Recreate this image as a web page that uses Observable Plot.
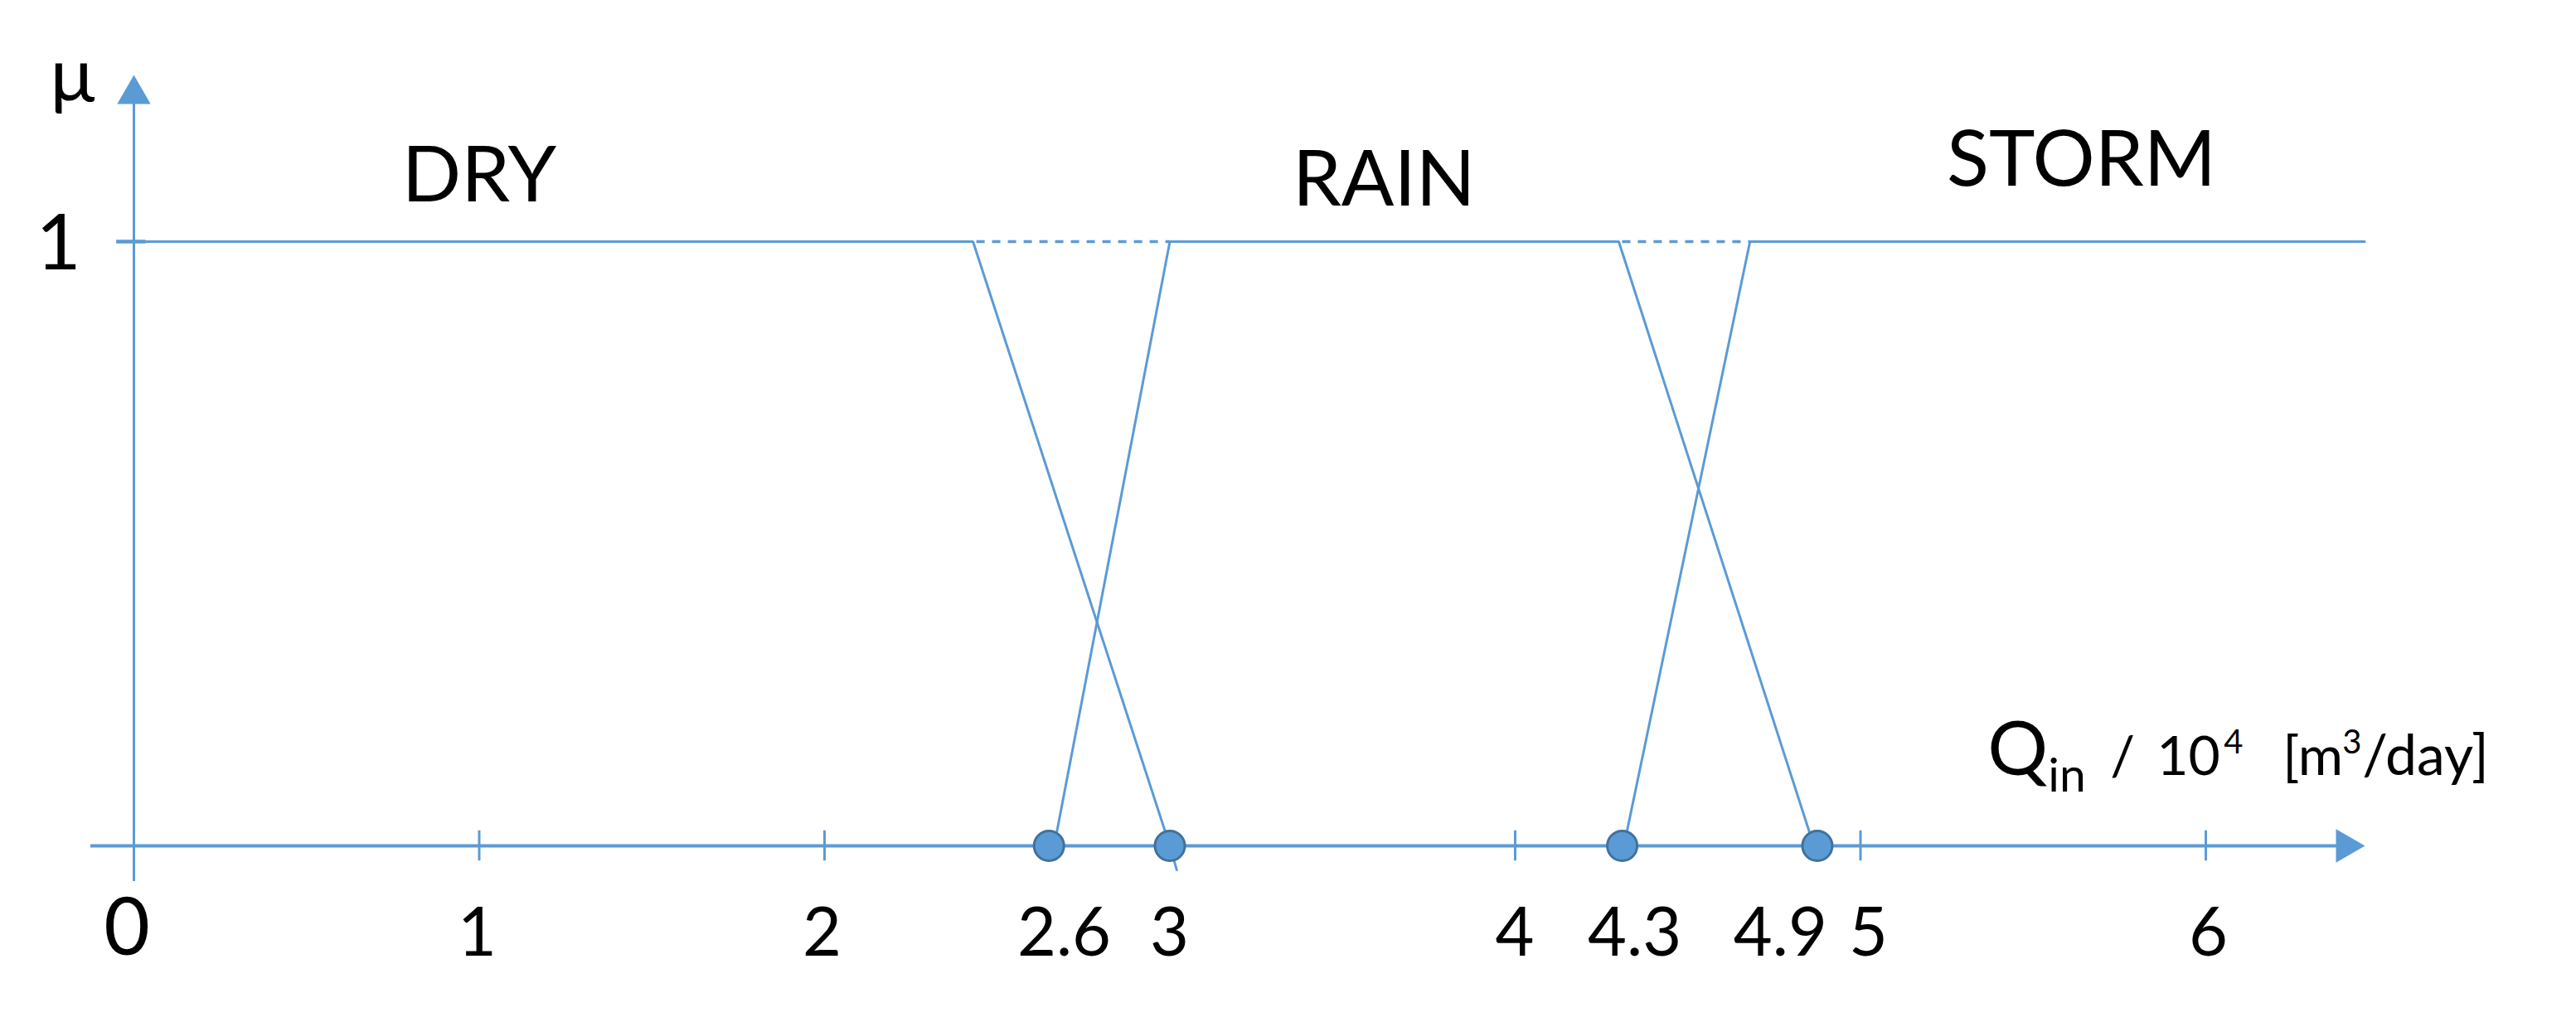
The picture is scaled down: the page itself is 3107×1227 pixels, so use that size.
<!DOCTYPE html>
<html>
<head>
<meta charset="utf-8">
<script src="https://cdn.jsdelivr.net/npm/d3@7"></script>
<script src="https://cdn.jsdelivr.net/npm/@observablehq/plot@0.6"></script>
<style>
html, body { margin: 0; padding: 0; background: #fff; }
#chart svg { display: block; }
</style>
</head>
<body>
<div id="chart"></div>
<script>
// ---- data ----
const setNames   = ["DRY", "RAIN", "STORM"];
const setLabelX  = [1.0, 3.62, 5.64];
const setLabelMu = [1.067, 1.059, 1.093];

const dryX   = [0, 2.43, 3.0, 3.02];
const dryMu  = [1, 1, 0, -0.04];
const rainX  = [2.665, 3.0, 4.30, 4.865];
const rainMu = [0, 1, 1, 0];
const stormX = [4.315, 4.68, 6.46];
const stormMu = [0, 1, 1];

const gapStart = [2.43, 4.30];
const gapEnd   = [3.0, 4.68];

const pointX = [2.65, 3.0, 4.31, 4.875];

const tickValues = [1, 2, 4, 5, 6];
const tickLabels = ["1", "2", "2.6", "3", "4", "4.3", "4.9", "5", "6"];
const tickLabelX = [0.994, 1.993, 2.694, 2.999, 3.999, 4.346, 4.768, 5.023, 6.007];

const xAxisExtent = [-0.125, 6.405];
const yAxisExtent = [-0.059, 1.2437];

const xTitleParts = ["Q", "in", "/", "10", "4", "[m", "3", "/day]"];

// ---- styles ----
const blue = "#5B9BD5";
const dotStroke = "#41719C";
const font = "Lato";

const pts = (xs, ys) => xs.map((x, i) => ({x, y: ys[i]}));

const titleX = 5.368, titleY = 0.1166;
const titleStyle = [
  {dx: 0,   dy: 0,   fontSize: 91},
  {dx: 73,  dy: 20,  fontSize: 57},
  {dx: 148, dy: 0,   fontSize: 66},
  {dx: 204, dy: 0,   fontSize: 66},
  {dx: 285, dy: -26, fontSize: 40},
  {dx: 356, dy: 0,   fontSize: 66},
  {dx: 428, dy: -26, fontSize: 40},
  {dx: 452, dy: 0,   fontSize: 68}
];

const chart = Plot.plot({
  width: 3107,
  height: 1227,
  x: {domain: [0, 6], range: [161, 2660], axis: null},
  y: {domain: [0, 1], range: [1020, 291], axis: null},
  style: {fontFamily: font, background: "white", overflow: "visible"},
  marks: [
    // axes
    Plot.ruleY([0], {x1: xAxisExtent[0], x2: xAxisExtent[1], stroke: blue, strokeWidth: 4}),
    Plot.ruleX([0], {y1: yAxisExtent[0], y2: yAxisExtent[1], stroke: blue, strokeWidth: 3}),
    Plot.dot([{x: xAxisExtent[1], y: 0}], {x: "x", y: "y", symbol: "triangle", r: 15, rotate: 90, fill: blue, stroke: null}),
    Plot.dot([{x: 0, y: yAxisExtent[1]}], {x: "x", y: "y", symbol: "triangle", r: 15, fill: blue, stroke: null}),
    Plot.ruleY([1], {x1: -0.05, x2: 0.035, stroke: blue, strokeWidth: 4.5}),
    Plot.ruleX(tickValues, {x: d => d, y1: -0.025, y2: 0.025, stroke: blue, strokeWidth: 3}),

    // membership functions
    Plot.line(pts(dryX, dryMu), {x: "x", y: "y", stroke: blue, strokeWidth: 3, strokeLinejoin: "miter"}),
    Plot.line(pts(rainX, rainMu), {x: "x", y: "y", stroke: blue, strokeWidth: 3, strokeLinejoin: "miter"}),
    Plot.line(pts(stormX, stormMu), {x: "x", y: "y", stroke: blue, strokeWidth: 3, strokeLinejoin: "miter"}),
    Plot.link(gapStart.map((x, i) => ({x1: x, x2: gapEnd[i]})), {
      x1: "x1", x2: "x2", y1: () => 1, y2: () => 1,
      stroke: blue, strokeWidth: 3.5, strokeDasharray: "10,9", strokeDashoffset: -4
    }),

    // breakpoints
    Plot.dot(pointX, {x: d => d, y: () => 0, r: 18, fill: blue, stroke: dotStroke, strokeWidth: 3}),

    // set labels
    Plot.text(setNames, {
      x: (d, i) => setLabelX[i], y: (d, i) => setLabelMu[i], text: d => d,
      fontSize: 94, lineAnchor: "bottom", fill: "black"
    }),

    // tick labels
    Plot.text(tickLabels, {
      x: (d, i) => tickLabelX[i], y: () => -0.1824, text: d => d,
      fontSize: 81, lineAnchor: "bottom", fill: "black"
    }),
    Plot.text(["0"], {x: () => -0.02, y: () => -0.181, text: d => d, fontSize: 96, lineAnchor: "bottom", fill: "black"}),
    Plot.text(["1"], {x: () => -0.2185, y: () => 0.9534, text: d => d, fontSize: 94, lineAnchor: "bottom", fill: "black"}),
    Plot.text(["μ"], {x: () => -0.178, y: () => 1.232, text: d => d, fontSize: 90, lineAnchor: "bottom", fill: "black"}),

    // x-axis title pieces
    ...xTitleParts.map((t, i) => Plot.text([t], {
      x: () => titleX, y: () => titleY, text: d => d,
      textAnchor: "start", lineAnchor: "bottom", fill: "black",
      dx: titleStyle[i].dx, dy: titleStyle[i].dy, fontSize: titleStyle[i].fontSize
    }))
  ]
});

document.getElementById("chart").appendChild(chart);
</script>
</body>
</html>
